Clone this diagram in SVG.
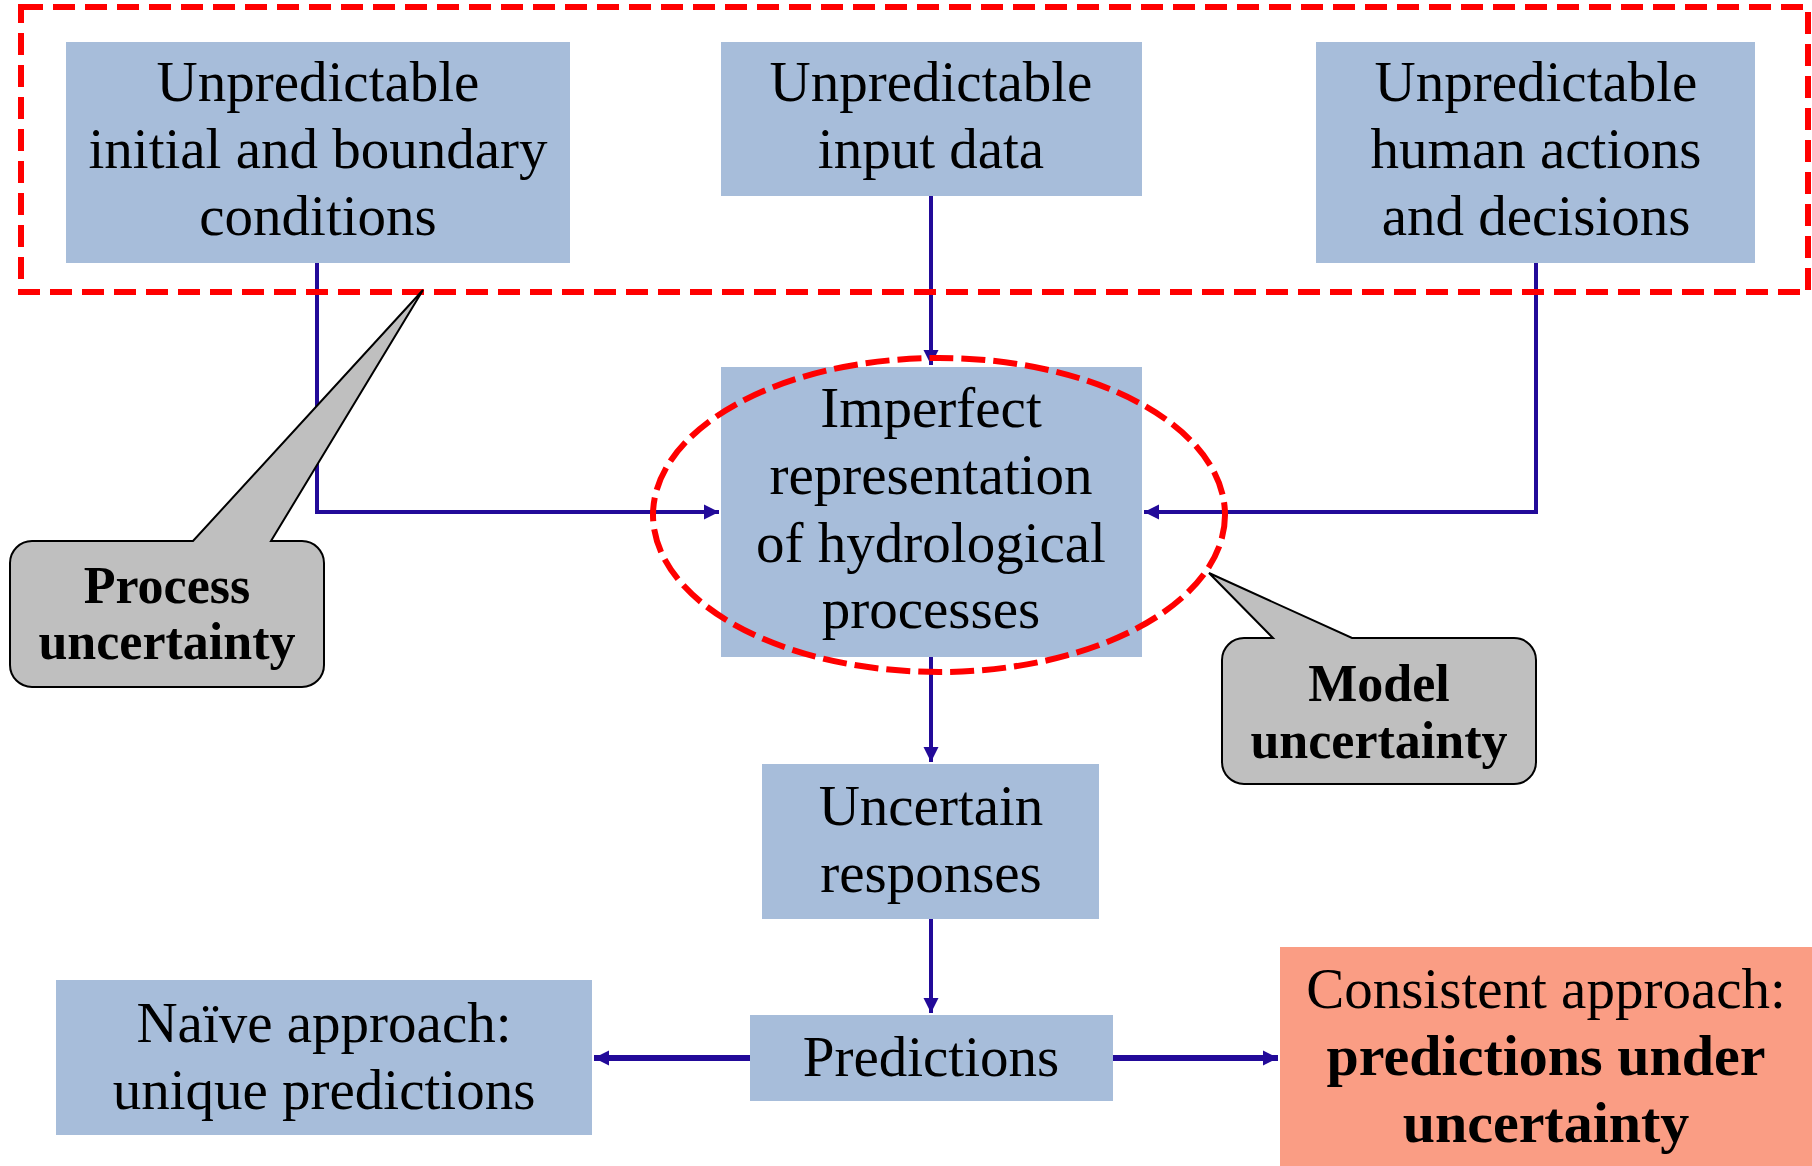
<svg xmlns="http://www.w3.org/2000/svg" width="1812" height="1166" viewBox="0 0 1812 1166">
<style>
.box{fill:#A7BDDA}
.hot{fill:#FA9D84}
.t{font-family:"Liberation Serif","Times New Roman",serif;font-size:57px;fill:#000;text-anchor:middle}
.b{font-weight:bold;font-size:58px}
.cb{font-family:"Liberation Serif","Times New Roman",serif;font-size:52px;font-weight:bold;fill:#000;text-anchor:middle}
.c{fill:none;stroke:#220A99;stroke-width:4}
.ct{fill:none;stroke:#220A99;stroke-width:6}
.call{fill:#BFBFBF;stroke:#000;stroke-width:2;stroke-linejoin:miter}
.red{fill:none;stroke:#FF0000;stroke-width:6}
</style>
<defs>
<marker id="ah" markerUnits="userSpaceOnUse" markerWidth="16" markerHeight="16" refX="15" refY="8" orient="auto">
<path d="M0,0.5 L15,8 L0,15.5 z" fill="#220A99"/>
</marker>
</defs>
<rect width="1812" height="1166" fill="#fff"/>

<g id="n-initial"><rect class="box" x="66" y="42" width="504" height="221"/>
<text class="t" x="318" y="101">Unpredictable</text><text class="t" x="318" y="168">initial and boundary</text><text class="t" x="318" y="235">conditions</text></g>
<g id="n-input"><rect class="box" x="721" y="42" width="421" height="154"/>
<text class="t" x="931" y="101">Unpredictable</text><text class="t" x="931" y="168">input data</text></g>
<g id="n-human"><rect class="box" x="1316" y="42" width="439" height="221"/>
<text class="t" x="1536" y="101">Unpredictable</text><text class="t" x="1536" y="168">human actions</text><text class="t" x="1536" y="235">and decisions</text></g>
<g id="n-model"><rect class="box" x="721" y="367" width="421" height="290"/>
<text class="t" x="931" y="427">Imperfect</text><text class="t" x="931" y="494">representation</text><text class="t" x="931" y="562">of hydrological</text><text class="t" x="931" y="628">processes</text></g>
<g id="n-responses"><rect class="box" x="762" y="764" width="337" height="155"/>
<text class="t" x="931" y="825">Uncertain</text><text class="t" x="931" y="892">responses</text></g>
<g id="n-predictions"><rect class="box" x="750" y="1015" width="363" height="86"/>
<text class="t" x="931" y="1076">Predictions</text></g>
<g id="n-naive"><rect class="box" x="56" y="980" width="536" height="155"/>
<text class="t" x="324" y="1042">Naïve approach:</text><text class="t" x="324" y="1109">unique predictions</text></g>
<g id="n-consistent"><rect class="hot" x="1280" y="947" width="532" height="219"/>
<text class="t" x="1546" y="1008">Consistent approach:</text><text class="t b" x="1546" y="1075">predictions under</text><text class="t b" x="1546" y="1142">uncertainty</text></g>

<g id="connectors">
<path class="c" d="M317,263 V512 H719" marker-end="url(#ah)"/>
<path class="c" d="M931,196 V365" marker-end="url(#ah)"/>
<path class="c" d="M1536,263 V512 H1144" marker-end="url(#ah)"/>
<path class="c" d="M931,657 V762" marker-end="url(#ah)"/>
<path class="c" d="M931,919 V1013" marker-end="url(#ah)"/>
<path class="ct" d="M750,1058 H594" marker-end="url(#ah)"/>
<path class="ct" d="M1113,1058 H1278" marker-end="url(#ah)"/>
</g>

<g id="group-model-uncertainty"><ellipse class="red" cx="939" cy="515" rx="286" ry="157" stroke-width="5.5" stroke-dasharray="24 8"/></g>
<g id="group-process-uncertainty"><rect class="red" x="21" y="7" width="1787" height="285" stroke-dasharray="22 10"/></g>

<g id="n-process-callout">
<path class="call" d="M32,541 H193 L423,290 L271,541 H302 A22,22 0 0 1 324,563 V665 A22,22 0 0 1 302,687 H32 A22,22 0 0 1 10,665 V563 A22,22 0 0 1 32,541 Z"/>
<text class="cb" x="167" y="603">Process</text><text class="cb" x="167" y="659">uncertainty</text></g>
<g id="n-model-callout">
<path class="call" d="M1244,638 H1273 L1209,573 L1352,638 H1514 A22,22 0 0 1 1536,660 V762 A22,22 0 0 1 1514,784 H1244 A22,22 0 0 1 1222,762 V660 A22,22 0 0 1 1244,638 Z"/>
<text class="cb" x="1379" y="701">Model</text><text class="cb" x="1379" y="758">uncertainty</text></g>
</svg>
